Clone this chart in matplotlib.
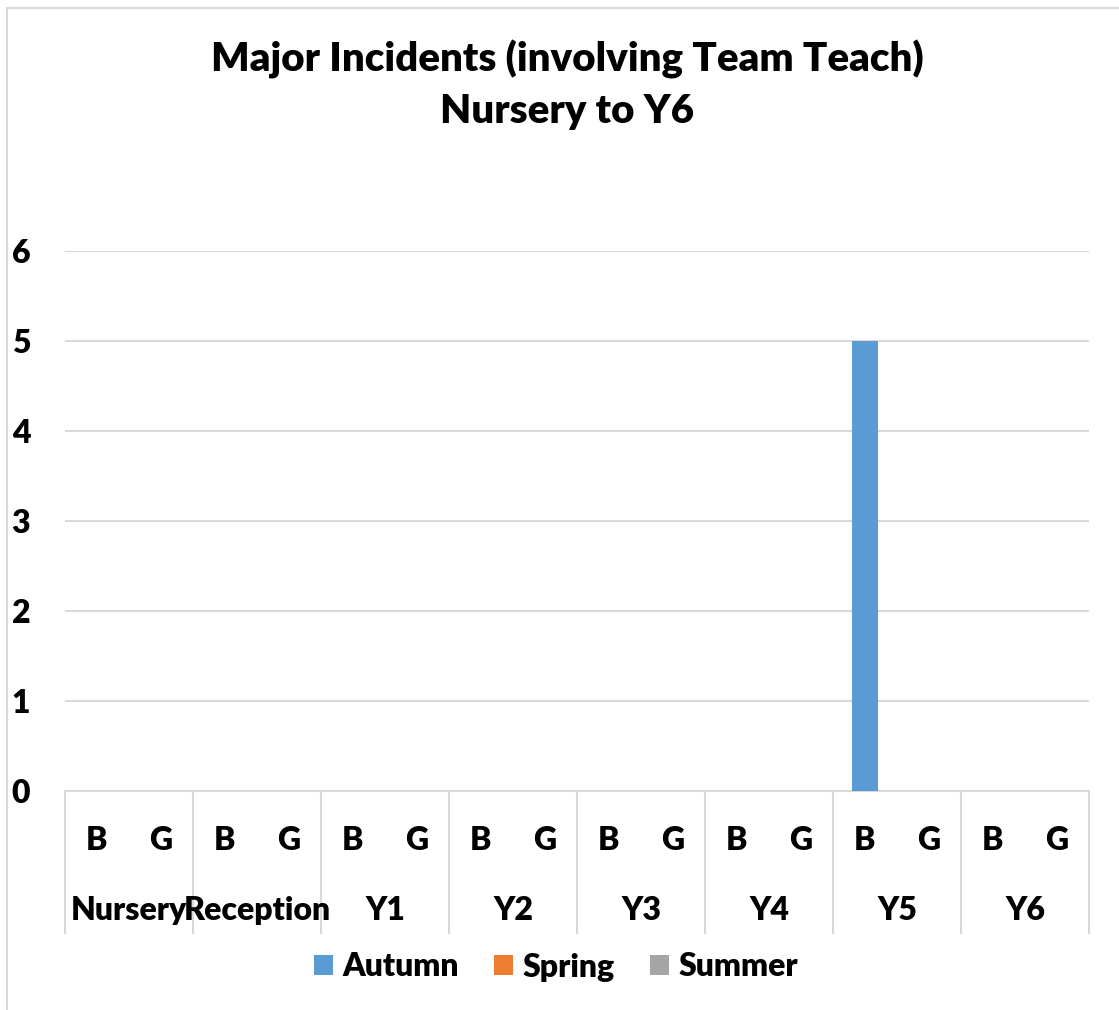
import numpy as np
import matplotlib.pyplot as plt
from matplotlib.patches import Rectangle

# 데이터
groups = ["Nursery", "Reception", "Y1", "Y2", "Y3", "Y4", "Y5", "Y6"]
genders = ["B", "G"]
autumn = [0, 0, 0, 0, 0, 0, 0, 0, 0, 0, 0, 0, 5, 0, 0, 0]
spring = [0, 0, 0, 0, 0, 0, 0, 0, 0, 0, 0, 0, 0, 0, 0, 0]
summer = [0, 0, 0, 0, 0, 0, 0, 0, 0, 0, 0, 0, 0, 0, 0, 0]

plt.rcParams['font.family'] = ['Lato', 'DejaVu Sans']
plt.rcParams['font.weight'] = 'bold'

W, H = 1119, 1010
fig = plt.figure(figsize=(W / 100, H / 100), dpi=100)

# 차트 영역 테두리 (오른쪽/아래는 잘린 상태)
fig.patches.append(Rectangle((7 / W, -0.1), 1.2, 1 - 8 / H + 0.1, transform=fig.transFigure,
                             fill=False, edgecolor='#d9d9d9', linewidth=1.5))

ax = fig.add_axes([65 / W, 1 - 791 / H, (1089 - 65) / W, (791 - 251) / H])

x = np.arange(len(autumn))
bw = 0.41
ax.bar(x, autumn, bw, color='#5B9BD5', label='Autumn', zorder=3)
ax.bar(x, spring, bw, bottom=autumn, color='#ED7D31', label='Spring', zorder=3)
ax.bar(x, summer, bw, bottom=np.array(autumn) + np.array(spring), color='#A5A5A5',
       label='Summer', zorder=3)

fs = 23
ax.set_xlim(-0.5, len(x) - 0.5)
ax.set_ylim(0, 6)
ax.set_yticks(range(7))
ax.set_yticklabels([str(v) for v in range(7)], fontsize=fs, fontweight='heavy')
ax.tick_params(axis='y', length=0, pad=25)
ax.grid(axis='y', color='#d9d9d9', linewidth=1.5, zorder=0)

for s in ['top', 'right', 'left']:
    ax.spines[s].set_visible(False)
ax.spines['bottom'].set_color('#d9d9d9')
ax.spines['bottom'].set_linewidth(1.5)

# 다단 카테고리 축
ax.set_xticks([])
tr = ax.get_xaxis_transform()
for i in x:
    ax.text(i, -0.091, genders[i % 2], transform=tr, ha='center', va='center',
            fontsize=fs, fontweight='heavy')
for g, name in enumerate(groups):
    ax.text(2 * g + 0.5, -0.222, name, transform=tr, ha='center', va='center',
            fontsize=fs, fontweight='heavy')
for b in range(len(groups) + 1):
    ax.plot([2 * b - 0.5, 2 * b - 0.5], [0, -0.263], transform=tr, color='#d9d9d9',
            linewidth=1.5, clip_on=False)

fig.text(567 / W, 1 - 85 / H, "Major Incidents (involving Team Teach)\nNursery to Y6",
         ha='center', va='center', fontsize=29, fontweight='heavy', linespacing=1.47)

fig.legend(loc='center', bbox_to_anchor=(556 / W, 1 - 967 / H), ncol=3, frameon=False,
           prop={'size': fs, 'weight': 'heavy'}, handlelength=0.6, handleheight=0.6,
           handletextpad=0.3, columnspacing=1.1)

fig.savefig("out.png", dpi=100)
